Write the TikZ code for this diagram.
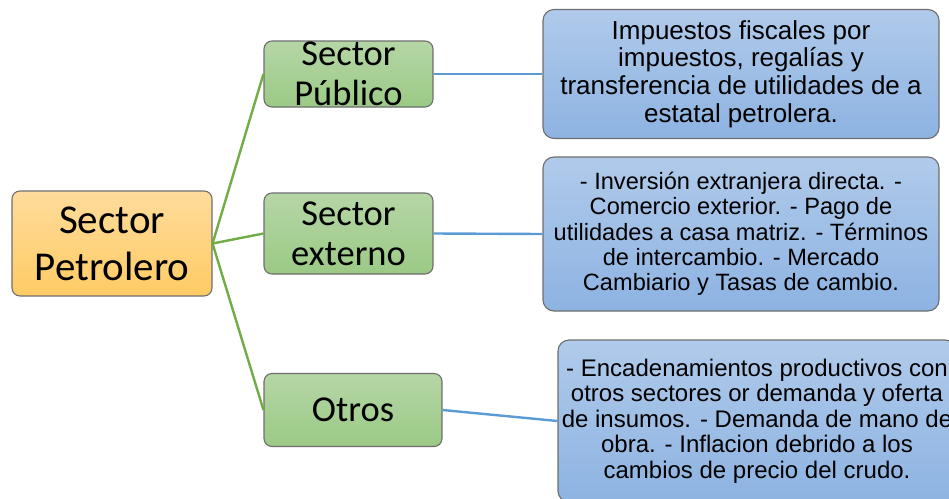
\documentclass[tikz,border=0pt]{standalone}
\usepackage{fontspec}
\setmainfont{Carlito}
\newfontfamily\arialfont{Liberation Sans}
\definecolor{oratop}{HTML}{FFDC9C}
\definecolor{orabot}{HTML}{FFCB64}
\definecolor{grntop}{HTML}{B5D6A6}
\definecolor{grnbot}{HTML}{9BCA85}
\definecolor{blutop}{HTML}{B0CAEA}
\definecolor{blubot}{HTML}{8DB3E2}
\definecolor{edge}{HTML}{6E6E6E}
\definecolor{gline}{HTML}{70AD47}
\definecolor{bline}{HTML}{5B9BD5}

\begin{document}
\begin{tikzpicture}[x=1pt, y=-1pt,
    box/.style={draw=edge, line width=1.1pt, rounded corners=8pt, inner sep=0pt},
    orabox/.style={box, top color=oratop, bottom color=orabot},
    grnbox/.style={box, top color=grntop, bottom color=grnbot},
    blubox/.style={box, rounded corners=11pt, top color=blutop, bottom color=blubot, align=center},
    boxtext/.style={align=center, inner sep=0pt},
    green/.style={gline, line width=2.4pt},
    blue/.style={bline, line width=2.4pt}]
    \clip (0,0) rectangle (949,498);
    % left column
    \node[orabox, minimum width=200pt, minimum height=105pt,
        label={[boxtext, font=\fontsize{41}{47}\selectfont]center:Sector\\Petrolero}] (pet) at (112,243.5) {};
    \node[grnbox, minimum width=169pt, minimum height=66pt,
        label={[boxtext, font=\fontsize{36.5}{40}\selectfont]center:Sector\\Público}] (pub) at (348.5,74) {};
    \node[grnbox, minimum width=169pt, minimum height=81pt,
        label={[boxtext, font=\fontsize{36.5}{40}\selectfont]center:Sector\\externo}] (ext) at (348.5,233.5) {};
    \node[grnbox, minimum width=178pt, minimum height=73pt,
        label={[boxtext, font=\fontsize{36.5}{40}\selectfont]center:Otros}] (otr) at (353,410) {};
    % right column
    \node[blubox, minimum width=396pt, minimum height=129pt,
        font=\arialfont\fontsize{26}{27.7}\selectfont] (pubi) at (741,74)
        {Impuestos fiscales por\\impuestos, regalías y\\transferencia de utilidades de a\\estatal petrolera.};
    \node[blubox, minimum width=396pt, minimum height=154pt,
        font=\arialfont\fontsize{23.6}{25.3}\selectfont] (exti) at (741,234)
        {- Inversión extranjera directa. -\\Comercio exterior. - Pago de\\utilidades a casa matriz. - Términos\\de intercambio. - Mercado\\Cambiario y Tasas de cambio.};
    \node[blubox, minimum width=398pt, minimum height=162pt,
        font=\arialfont\fontsize{24}{25.5}\selectfont] (otri) at (757,421)
        {- Encadenamientos productivos con\\otros sectores or demanda y oferta\\de insumos. - Demanda de mano de\\obra. - Inflacion debrido a los\\cambios de precio del crudo.};
    % connectors
    \foreach \s in {pub,ext,otr}
        \draw[green] (pet.east) -- (\s.west);
    \foreach \s in {pub,ext,otr}
        \draw[blue] (\s.east) -- (\s i.west);
\end{tikzpicture}
\end{document}
